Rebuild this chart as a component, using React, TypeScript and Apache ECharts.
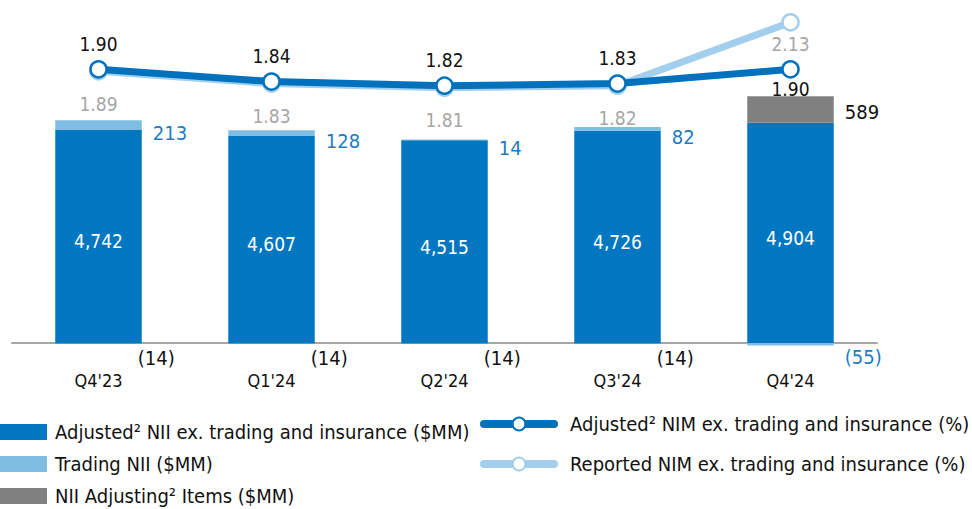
import React, { useEffect, useRef } from "react";
import * as echarts from "echarts";

const categories = ["Q4'23", "Q1'24", "Q2'24", "Q3'24", "Q4'24"];
const adjustedNii = [4742, 4607, 4515, 4726, 4904];
const tradingNii = [213, 128, 14, 82, -55];
const adjustingItems = [-14, -14, -14, -14, 589];
const adjustedNim = [1.9, 1.84, 1.82, 1.83, 1.9];
const reportedNim = [1.89, 1.83, 1.81, 1.82, 2.13];

const names = {
  adjNii: "Adjusted² NII ex. trading and insurance ($MM)",
  trading: "Trading NII ($MM)",
  adjItems: "NII Adjusting² Items ($MM)",
  adjNim: "Adjusted² NIM ex. trading and insurance (%)",
  repNim: "Reported NIM ex. trading and insurance (%)",
};

const FONT = "'Liberation Sans Narrow', 'DejaVu Sans Condensed', 'Roboto Condensed', sans-serif";
const DARK = "#0077c0";
const LIGHT = "#80bde3";
const GRAY = "#808080";
const LINE_DARK = "#0071bc";
const LINE_LIGHT = "#a2cfee";

const fmt = (v: number) =>
  v < 0 ? `(${Math.abs(v).toLocaleString("en-US")})` : v.toLocaleString("en-US");

export default function App() {
  const ref = useRef<HTMLDivElement>(null);
  useEffect(() => {
    if (!ref.current) return;
    const chart = echarts.init(ref.current, null, { renderer: "svg" });
    const last = categories.length - 1;
    chart.setOption({
      animation: false,
      textStyle: { fontFamily: FONT },
      grid: { left: 12, right: 95, top: 6, bottom: 166, containLabel: false },
      legend: [
        {
          orient: "vertical",
          left: 0,
          top: 422,
          padding: 0,
          height: 90,
          itemWidth: 47,
          itemHeight: 16,
          itemGap: 12,
          icon: "rect",
          textStyle: {
            fontFamily: FONT,
            fontSize: 20,
            lineHeight: 16,
            color: "#111",
            padding: [0, 0, 0, 3],
          },
          data: [names.adjNii, names.trading, names.adjItems],
          selectedMode: false,
        },
        {
          orient: "vertical",
          left: 480,
          top: 414,
          padding: 0,
          itemWidth: 70,
          itemHeight: 16,
          itemGap: 20,
          lineStyle: { width: 8, cap: "round" },
          textStyle: {
            fontFamily: FONT,
            fontSize: 20,
            lineHeight: 16,
            color: "#111",
            padding: [0, 0, 0, 11],
          },
          data: [names.adjNim, names.repNim],
          selectedMode: false,
        },
      ],
      xAxis: {
        type: "category",
        data: categories,
        axisLine: { lineStyle: { color: "#a6a6a6", width: 2 } },
        axisTick: { show: false },
        axisLabel: { color: "#111", fontSize: 18, margin: 28, fontFamily: FONT },
      },
      yAxis: [
        { type: "value", min: 0, max: 7500, show: false, splitLine: { show: false } },
        { type: "value", min: 0.56, max: 2.21, show: false, splitLine: { show: false } },
      ],
      series: [
        {
          name: names.adjNii,
          type: "bar",
          stack: "nii",
          barWidth: "50%",
          itemStyle: { color: DARK },
          data: adjustedNii,
          label: {
            show: true,
            position: "inside",
            color: "#fff",
            fontSize: 19,
            fontFamily: FONT,
            offset: [0, 5],
            formatter: (p: any) => fmt(p.value),
          },
        },
        {
          name: names.trading,
          type: "bar",
          stack: "nii",
          clip: false,
          itemStyle: { color: LIGHT },
          data: tradingNii.map((v) => ({
            value: v,
            label: {
              show: true,
              position: "right",
              distance: 11,
              offset: v < 0 ? [0, 13] : [0, 8],
              color: "#1a7cc4",
              fontSize: 20,
              fontFamily: FONT,
              formatter: (p: any) => fmt(p.value),
            },
          })),
        },
        {
          name: names.adjItems,
          type: "bar",
          stack: "nii",
          clip: false,
          itemStyle: { color: GRAY },
          data: adjustingItems.map((v) => ({
            value: v,
            label: {
              show: true,
              position: "right",
              distance: v < 0 ? 0 : 11,
              offset: v < 0 ? [-4, 15] : [0, 3],
              color: "#111",
              fontSize: 20,
              fontFamily: FONT,
              formatter: (p: any) => fmt(p.value),
            },
          })),
        },
        {
          name: names.repNim,
          type: "line",
          yAxisIndex: 1,
          z: 3,
          symbol: "circle",
          symbolSize: 16,
          lineStyle: { color: LINE_LIGHT, width: 7 },
          itemStyle: { color: "#fff", borderColor: LINE_LIGHT, borderWidth: 2.5 },
          data: reportedNim.map((v, i) => ({
            value: v,
            label: {
              show: true,
              position: "bottom",
              distance: i === last ? 3 : 14,
              color: "#a6a6a6",
              fontSize: 19,
              fontFamily: FONT,
              formatter: (p: any) => Number(p.value).toFixed(2),
            },
          })),
        },
        {
          name: names.adjNim,
          type: "line",
          yAxisIndex: 1,
          z: 4,
          symbol: "circle",
          symbolSize: 16,
          lineStyle: { color: LINE_DARK, width: 7 },
          itemStyle: { color: "#fff", borderColor: LINE_DARK, borderWidth: 2.5 },
          data: adjustedNim.map((v, i) => ({
            value: v,
            label: {
              show: true,
              position: i === last ? "bottom" : "top",
              distance: i === last ? 1 : 7,
              color: "#111",
              fontSize: 19,
              fontFamily: FONT,
              formatter: (p: any) => Number(p.value).toFixed(2),
            },
          })),
        },
      ],
    });
    return () => chart.dispose();
  }, []);
  return (
    <div
      ref={ref}
      style={{ position: "fixed", left: 0, top: 0, width: 972, height: 509, background: "#fff" }}
    />
  );
}
